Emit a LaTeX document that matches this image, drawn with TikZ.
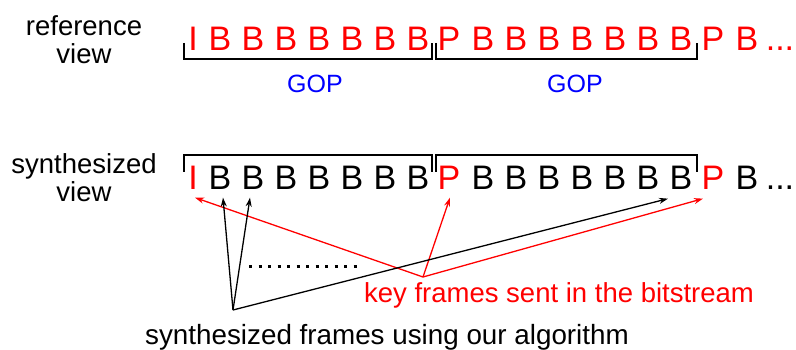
\documentclass[tikz,border=0pt]{standalone}
\usepackage{fontspec}
\setmainfont{Liberation Sans}
\usetikzlibrary{arrows.meta,positioning}
\newcommand{\moredots}{...}

\begin{document}
\begin{tikzpicture}[x=1pt,y=-1pt,>={Stealth[length=9pt,width=6pt]},line width=1.3pt]
  \tikzstyle{frame}=[inner sep=0pt,anchor=base,font=\fontsize{34}{34}\selectfont]
  \tikzstyle{lbl}=[align=center,font=\fontsize{27.5}{28}\selectfont]
  \tikzstyle{gop}=[blue,font=\fontsize{25}{25}\selectfont]
  \tikzstyle{brack}=[black,line width=1.5pt]

  \useasboundingbox (0,0) rectangle (796,350);

  \node[lbl] (rv) at (84,40)  {reference\\view};
  \node[lbl] (sv) at (84,178) {synthesized\\view};

  \foreach \x/\f/\col [count=\i] in {193/I/red,220/B/black,253/B/black,286/B/black,
      319/B/black,352/B/black,385/B/black,418/B/black,449/P/red,483/B/black,
      516/B/black,549/B/black,582/B/black,615/B/black,648/B/black,681/B/black,
      713/P/red,747/B/black,780/\moredots/black}
  {
    \node[frame,red]  (r\i) at (\x,51)  {\f};
    \node[frame,\col] (s\i) at (\x,190) {\f};
  }

  % GOP brackets
  \draw[brack] (184,43) -- (184,59) -- (432,59) -- (432,43);
  \draw[brack] (436,43) -- (436,59) -- (697,59) -- (697,43);
  \node[gop] (g1) at (315,84) {GOP};
  \node[gop] (g2) at (575,84) {GOP};

  \draw[brack] (184,172) -- (184,155) -- (432,155) -- (432,172);
  \draw[brack] (436,172) -- (436,155) -- (697,155) -- (697,172);

  % key frames
  \coordinate (key) at (423,277);
  \node[lbl,red,anchor=base] (kf) at (559,302) {key frames sent in the bitstream};
  \path[->,red]
  (key) edge ([xshift=2pt,yshift=-7pt]s1.south)
        edge ([xshift=1pt,yshift=-7pt]s9.south)
        edge ([xshift=-10pt,yshift=-8pt]s17.south);

  % synthesized frames
  \coordinate (syn) at (233,310);
  \node[lbl,anchor=base,font=\fontsize{27.8}{28}\selectfont] (sf) at (387,344) {synthesized frames using our algorithm};
  \path[->,black]
  (syn) edge ([xshift=3pt,yshift=-7pt]s2.south)
        edge ([xshift=-3pt,yshift=-7pt]s3.south)
        edge ([xshift=-13pt,yshift=-8pt]s16.south);
  \draw[line width=3pt,dash pattern=on 3pt off 6.5pt] (249,266) -- (358,266);
\end{tikzpicture}
\end{document}
